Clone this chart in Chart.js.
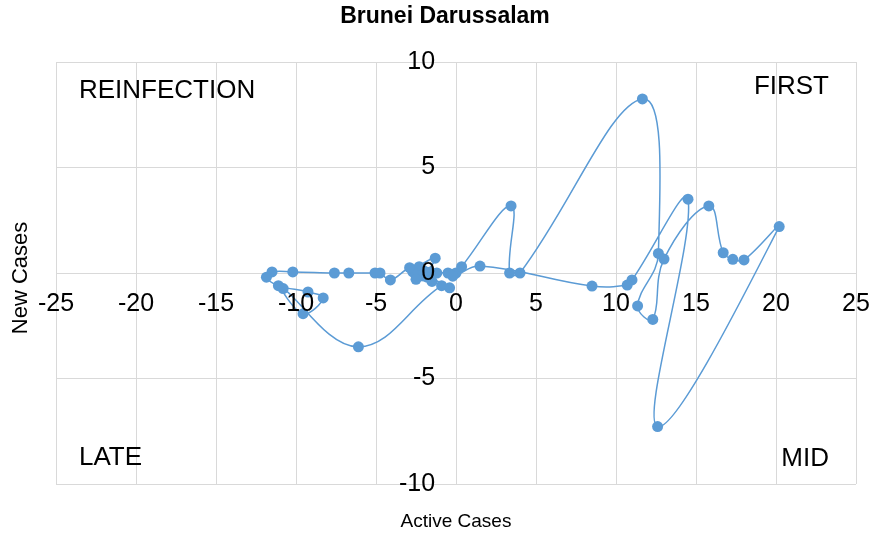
<!DOCTYPE html>
<html>
<head>
<meta charset="utf-8">
<script src="https://cdn.jsdelivr.net/npm/chart.js@4.4.1/dist/chart.umd.min.js"></script>
<style>
  html, body { margin: 0; padding: 0; background: #fff; overflow: hidden; }
  #wrap { width: 875px; height: 541px; position: relative; }
  canvas { display: block; }
</style>
</head>
<body>
<div id="wrap"><canvas id="grafico"></canvas></div>
<script>
// ── DADOS (em ordem de tempo)
const activeCases = [
  0, 0.35, 3.44, 3.35, 4.0, 11.65, 12.65, 11.35, 12.3, 13.0,
  15.8, 16.7, 17.3, 18.0, 20.2, 12.6, 14.5, 11.0, 10.7, 8.5,
  1.5, -0.2, -0.5, -1.2, -1.6, -2.0, -2.3, -1.3, -2.1, -2.7,
  -2.9, -4.1, -4.75, -5.06, -6.7, -7.6, -10.2, -11.5, -11.85, -11.1,
  -9.25, -8.3, -9.56, -10.8, -6.1, -0.9, -0.4, -1.8, -2.5, -1.5
];
const newCases = [
  0, 0.3, 3.18, 0.0, 0.0, 8.25, 0.93, -1.56, -2.2, 0.66,
  3.18, 0.96, 0.65, 0.62, 2.2, -7.28, 3.5, -0.33, -0.57, -0.62,
  0.33, -0.15, 0.0, 0.0, 0.05, 0.1, 0.3, 0.7, -0.1, 0.05,
  0.25, -0.33, 0.0, 0.0, 0.0, 0.0, 0.05, 0.05, -0.2, -0.6,
  -0.9, -1.18, -1.93, -0.74, -3.5, -0.6, -0.7, -0.2, -0.3, -0.4
];
const xTicks = [-25, -20, -15, -10, -5, 0, 5, 10, 15, 20, 25];
const yTicks = [-10, -5, 0, 5, 10];
const quadrantes = ['REINFECTION', 'FIRST', 'LATE', 'MID'];

const AZUL = '#5B9BD5';
const CINZA = '#d9d9d9';
const FONTE = '"Liberation Sans", Arial, sans-serif';

// ── TEXTOS EXTRAS (título, quadrantes, títulos dos eixos)
const textosPlugin = {
  id: 'textos',
  afterDraw(chart) {
    const { ctx, chartArea: a } = chart;
    ctx.save();
    ctx.fillStyle = '#000';
    ctx.textBaseline = 'middle';

    ctx.font = 'bold 23px ' + FONTE;
    ctx.textAlign = 'center';
    ctx.fillText('Brunei Darussalam', 445, 17);

    ctx.font = '26px ' + FONTE;
    ctx.textAlign = 'left';
    ctx.fillText(quadrantes[0], a.left + 23, 91);
    ctx.fillText(quadrantes[2], a.left + 23, 458);
    ctx.textAlign = 'right';
    ctx.fillText(quadrantes[1], a.right - 27, 87);
    ctx.fillText(quadrantes[3], a.right - 27, 459);

    ctx.font = '19px ' + FONTE;
    ctx.textAlign = 'center';
    ctx.fillText('Active Cases', 456, 522);
    ctx.font = '22px ' + FONTE;
    ctx.translate(21, 278);
    ctx.rotate(-Math.PI / 2);
    ctx.fillText('New Cases', 0, 0);
    ctx.restore();
  }
};

const cfg = {
  type: 'scatter',
  data: {
    datasets: [{
      data: activeCases.map((x, i) => ({ x, y: newCases[i] })),
      showLine: true,
      borderColor: AZUL,
      borderWidth: 1.5,
      tension: 0.4,
      pointRadius: 5.5,
      pointBackgroundColor: AZUL,
      pointBorderColor: AZUL,
      pointBorderWidth: 0,
    }]
  },
  options: {
    responsive: false,
    animation: false,
    layout: { padding: { left: 56, right: 19, top: 62, bottom: 57 } },
    plugins: { legend: { display: false }, tooltip: { enabled: false } },
    scales: {
      x: {
        type: 'linear',
        min: -25, max: 25,
        position: { y: 0 },
        afterBuildTicks: s => { s.ticks = xTicks.map(v => ({ value: v })); },
        // o padding dos rótulos não deve empurrar a área do gráfico
        afterFit: s => { s.paddingLeft = 0; s.paddingRight = 0; },
        grid: { color: CINZA, lineWidth: 1, drawTicks: false },
        border: { color: CINZA, z: -1 },
        // rótulos por cima dos pontos, como no Excel
        ticks: { z: 1, font: { family: FONTE, size: 25 }, color: '#000', padding: 16, maxRotation: 0, autoSkip: false }
      },
      y: {
        type: 'linear',
        min: -10, max: 10,
        position: { x: 0 },
        afterBuildTicks: s => { s.ticks = yTicks.map(v => ({ value: v })); },
        grid: { color: CINZA, lineWidth: 1, drawTicks: false },
        border: { color: CINZA, z: -1 },
        // eixo centralizado ignora o padding: espaços afastam o rótulo da linha
        ticks: { z: 1, font: { family: FONTE, size: 25 }, color: '#000', autoSkip: false, callback: v => v + '   ' }
      }
    }
  },
  plugins: [textosPlugin]
};

const canvas = document.getElementById('grafico');
canvas.width = 875;
canvas.height = 541;
new Chart(canvas, cfg);
</script>
</body>
</html>
